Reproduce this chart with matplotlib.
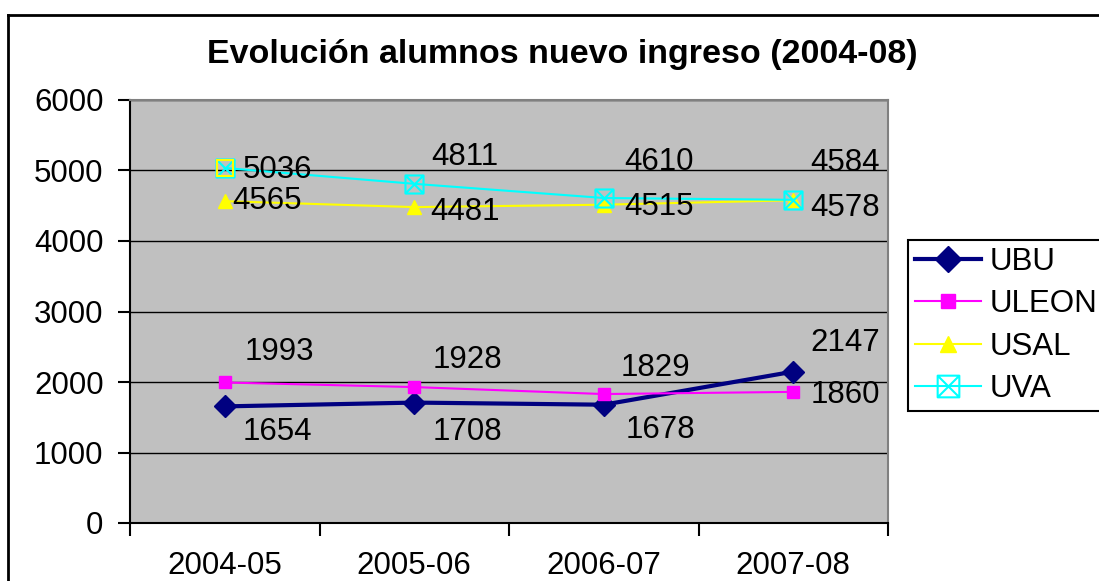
import numpy as np
import matplotlib
matplotlib.use("Agg")
from matplotlib import pyplot as plt
from matplotlib.path import Path
from matplotlib.lines import Line2D

plt.rcParams['font.family'] = ['Liberation Sans', 'DejaVu Sans']

# data
cursos = ['2004-05', '2005-06', '2006-07', '2007-08']
ubu = [1654, 1708, 1678, 2147]
uleon = [1993, 1928, 1829, 1860]
usal = [4565, 4481, 4515, 4578]
uva = [5036, 4811, 4610, 4584]
yticks = [0, 1000, 2000, 3000, 4000, 5000, 6000]

# label offsets (pixels) for each point, tweaked to match the excel layout
off_ubu = [(53, -26), (53, -29), (57, -25), (52, 29)]
off_uleon = [(55, 30), (53, 27), (52, 26), (52, -3)]
off_usal = [(42, 0), (51, -5), (55, -2), (52, -8)]
off_uva = [(53, -2), (51, 27), (55, 36), (52, 37)]

FS = 22.5

# square with an X inside, like the excel marker
box_x = Path([(-1, -1), (1, -1), (1, 1), (-1, 1), (-1, -1), (-1, -1), (1, 1), (-1, 1), (1, -1)],
             [Path.MOVETO, Path.LINETO, Path.LINETO, Path.LINETO, Path.CLOSEPOLY,
              Path.MOVETO, Path.LINETO, Path.MOVETO, Path.LINETO])

W, H = 1099, 581
fig = plt.figure(figsize=(W / 100., H / 100.), dpi=100)
ax = fig.add_axes([130. / W, (H - 523.) / H, 758. / W, 423. / H])
ax.set_facecolor('#C0C0C0')

x = np.arange(len(cursos))
ax.plot(x, ubu, color='#000080', lw=3, marker='D', ms=11, label='UBU', zorder=3)
ax.plot(x, uleon, color='#FF00FF', lw=1.5, marker='s', ms=8.5, label='ULEON', zorder=4)
ax.plot(x, usal, color='#FFFF00', lw=1.5, marker='^', ms=9.5, label='USAL', zorder=5)
ax.plot(x, uva, color='#00FFFF', lw=1.5, marker=box_x, ms=13, mfc='none', mew=1.5,
        label='UVA', zorder=6)
# first UVA marker shows up with a yellow box in the original
ax.plot(x[:1], uva[:1], marker='s', ms=12, mfc='none', mec='#FFFF00', mew=1.5,
        ls='none', zorder=6)

for serie, offs in [(ubu, off_ubu), (uleon, off_uleon), (usal, off_usal), (uva, off_uva)]:
    for i, v in enumerate(serie):
        ax.annotate(str(v), (x[i], v), xytext=offs[i], textcoords='offset pixels',
                    ha='center', va='center', fontsize=FS, zorder=7)

ax.set_xlim(-0.5, len(cursos) - 0.5)
ax.set_ylim(0, 6000)
ax.set_yticks(yticks)
ax.set_yticklabels([str(t) for t in yticks])
ax.set_xticks(x)
ax.set_xticklabels(cursos)
ax.set_xticks(np.arange(len(cursos) + 1) - 0.5, minor=True)
ax.tick_params(axis='x', which='major', length=0, pad=20, labelsize=FS)
ax.tick_params(axis='x', which='minor', length=9, width=1.5, direction='out')
ax.tick_params(axis='y', length=9, width=1.5, pad=10, labelsize=FS)
ax.yaxis.grid(True, color='black', lw=1)
ax.set_axisbelow(True)

for s in ['left', 'bottom']:
    ax.spines[s].set_color('black')
    ax.spines[s].set_linewidth(1.5)
for s in ['top', 'right']:
    ax.spines[s].set_color('#808080')
    ax.spines[s].set_linewidth(1.5)

fig.text(562. / W, 1 - 55. / H, 'Evolución alumnos nuevo ingreso (2004-08)',
         ha='center', va='center', fontsize=24.5, fontweight='bold')

leg = fig.legend(loc='upper left', bbox_to_anchor=(908. / W, 1 - 240. / H), borderaxespad=0,
                 fontsize=FS, fancybox=False, edgecolor='black', framealpha=1,
                 handlelength=2.1, handletextpad=0.3, labelspacing=0.4, borderpad=0.22,
                 markerscale=1.2)
leg.get_frame().set_linewidth(1.5)

# outer chart border (only top and left fall inside the picture)
fig.add_artist(Line2D([8. / W, 8. / W], [0, 1 - 15. / H], color='black', lw=2))
fig.add_artist(Line2D([8. / W, 1], [1 - 15. / H, 1 - 15. / H], color='black', lw=2))

fig.savefig('out.png', dpi=100)
